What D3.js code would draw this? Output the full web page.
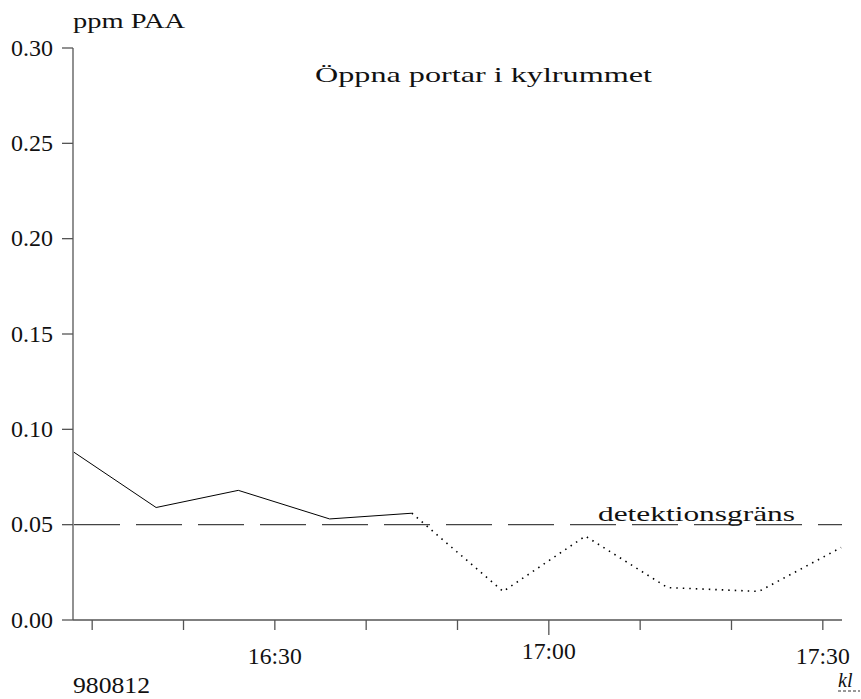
<!DOCTYPE html>
<html>
<head>
<meta charset="utf-8">
<script src="https://cdn.jsdelivr.net/npm/d3@7"></script>
<style>
  body { margin: 0; background: #fff; }
  text { font-family: "Liberation Serif", serif; fill: #111; }
</style>
</head>
<body>
<div id="chart"></div>
<script>
// measurement times (980812) and PAA concentration
var times = ["16:08", "16:17", "16:26", "16:36", "16:45", "16:55", "17:04", "17:13", "17:23", "17:32"];
var ppm = [0.088, 0.059, 0.068, 0.053, 0.056, 0.015, 0.044, 0.017, 0.015, 0.038];
var belowLimitFrom = 4; // dotted from this index on
var detectionLimit = 0.05;
var yTicks = [0, 0.05, 0.10, 0.15, 0.20, 0.25, 0.30];
var xTicks = ["16:10", "16:20", "16:30", "16:40", "16:50", "17:00", "17:10", "17:20", "17:30"];
var xLabels = ["16:30", "17:00", "17:30"];
var domainTimes = ["16:07.9", "17:32.1"];

var width = 861, height = 699;
var margin = {top: 48, right: 19, bottom: 79, left: 73};

function toDate(s) {
    var p = s.split(":");
    var m = parseFloat(p[1]);
    return new Date(1998, 7, 12, +p[0], Math.floor(m), (m % 1) * 60);
}

var svg = d3.select("#chart").append("svg")
    .attr("width", width)
    .attr("height", height);

var x = d3.scaleTime()
    .domain(domainTimes.map(toDate))
    .range([margin.left, width - margin.right]);

var y = d3.scaleLinear()
    .domain([0, 0.30])
    .range([height - margin.bottom, margin.top]);

var axisColor = "#555";

// y axis
svg.append("line")
    .attr("x1", x.range()[0]).attr("x2", x.range()[0])
    .attr("y1", y(0)).attr("y2", y(0.30))
    .attr("stroke", axisColor).attr("stroke-width", 1.3);

svg.selectAll(".ytick")
    .data(yTicks).enter()
    .append("line")
    .attr("x1", x.range()[0] - 11).attr("x2", x.range()[0])
    .attr("y1", function(d) { return y(d); })
    .attr("y2", function(d) { return y(d); })
    .attr("stroke", axisColor).attr("stroke-width", 1.3);

svg.selectAll(".ylabel")
    .data(yTicks).enter()
    .append("text")
    .attr("x", 53)
    .attr("y", function(d) { return y(d); })
    .attr("dy", "0.33em")
    .attr("text-anchor", "end")
    .attr("textLength", 42)
    .attr("lengthAdjust", "spacingAndGlyphs")
    .style("font-size", "23px")
    .text(function(d) { return d3.format(".2f")(d); });

// x axis
svg.append("line")
    .attr("x1", x.range()[0]).attr("x2", x.range()[1])
    .attr("y1", y(0)).attr("y2", y(0))
    .attr("stroke", axisColor).attr("stroke-width", 1.3);

svg.selectAll(".xtick")
    .data(xTicks).enter()
    .append("line")
    .attr("x1", function(d) { return x(toDate(d)); })
    .attr("x2", function(d) { return x(toDate(d)); })
    .attr("y1", y(0))
    .attr("y2", function(d) { return y(0) + (d === "17:00" ? 15 : 10); })
    .attr("stroke", axisColor).attr("stroke-width", 1.3);

svg.selectAll(".xlabel")
    .data(xLabels).enter()
    .append("text")
    .attr("x", function(d) { return x(toDate(d)) - 27; })
    .attr("y", function(d) { return d === "17:00" ? 659 : 664; })
    .attr("textLength", 54)
    .attr("lengthAdjust", "spacingAndGlyphs")
    .style("font-size", "23px")
    .text(function(d) { return d; });

// detection limit
svg.append("line")
    .attr("x1", x.range()[0] + 1).attr("x2", x.range()[1])
    .attr("y1", y(detectionLimit)).attr("y2", y(detectionLimit))
    .attr("stroke", "#444").attr("stroke-width", 1.2)
    .attr("stroke-dasharray", "46,16");

// measurements
var pts = times.map(function(t, i) { return {t: toDate(t), v: ppm[i]}; });
var line = d3.line()
    .x(function(d) { return x(d.t); })
    .y(function(d) { return y(d.v); });

svg.append("path")
    .attr("d", line(pts.slice(0, belowLimitFrom + 1)))
    .attr("fill", "none")
    .attr("stroke", "#000")
    .attr("stroke-width", 1);

svg.append("path")
    .attr("d", line(pts.slice(belowLimitFrom)))
    .attr("fill", "none")
    .attr("stroke", "#000")
    .attr("stroke-width", 1.6)
    .attr("stroke-dasharray", "1.5,5");

// texts
svg.append("text")
    .attr("x", 73).attr("y", 28)
    .style("font-size", "22px")
    .attr("textLength", 112)
    .attr("lengthAdjust", "spacingAndGlyphs")
    .text("ppm PAA");

svg.append("text")
    .attr("x", 315).attr("y", 82)
    .style("font-size", "22px")
    .attr("textLength", 337)
    .attr("lengthAdjust", "spacingAndGlyphs")
    .text("Öppna portar i kylrummet");

svg.append("text")
    .attr("x", 598).attr("y", 521)
    .style("font-size", "22px")
    .attr("textLength", 197)
    .attr("lengthAdjust", "spacingAndGlyphs")
    .text("detektionsgräns");

svg.append("text")
    .attr("x", 73).attr("y", 693)
    .style("font-size", "23px")
    .attr("textLength", 77)
    .attr("lengthAdjust", "spacingAndGlyphs")
    .text("980812");

svg.append("text")
    .attr("x", 838).attr("y", 687)
    .style("font-size", "20px")
    .style("font-style", "italic")
    .text("kl");

svg.append("line")
    .attr("x1", 838).attr("x2", 860)
    .attr("y1", 691).attr("y2", 691)
    .attr("stroke", "#333").attr("stroke-width", 1)
    .attr("stroke-dasharray", "3,2");
</script>
</body>
</html>
